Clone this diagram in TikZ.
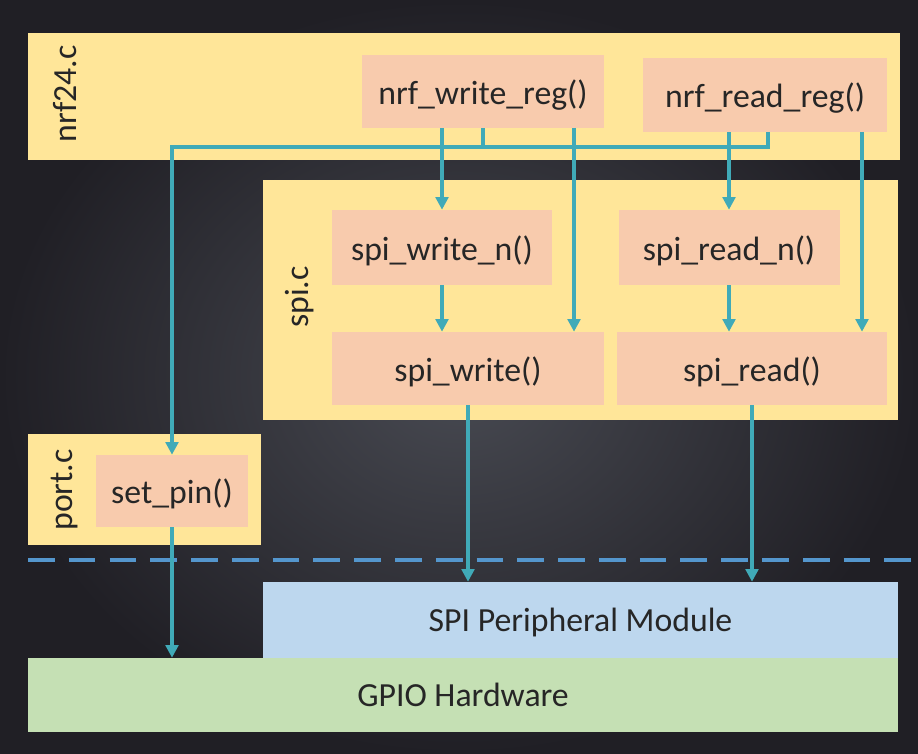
\documentclass[tikz,border=0pt]{standalone}
\usepackage{fontspec}
\setmainfont{Carlito}
\usetikzlibrary{positioning, calc, arrows.meta}

\definecolor{bgdark}{RGB}{32,31,37}
\definecolor{bglight}{RGB}{72,74,82}
\definecolor{modyellow}{RGB}{255,230,153}
\definecolor{fnsalmon}{RGB}{248,203,173}
\definecolor{hwblue}{RGB}{189,215,238}
\definecolor{hwgreen}{RGB}{197,224,180}
\definecolor{linkteal}{RGB}{64,170,184}
\definecolor{dashblue}{RGB}{84,150,205}
\definecolor{txtdark}{RGB}{38,38,38}

\newcommand{\px}{0.025cm}

\tikzset{
  module/.style={fill=modyellow, inner sep=0pt},
  fnbox/.style={fill=fnsalmon, inner sep=0pt, text=txtdark, font=\fontsize{24}{28}\selectfont, text height=23pt, text depth=5pt},
  hwbox/.style={inner sep=0pt, text=txtdark, font=\fontsize{24}{28}\selectfont, text height=22pt, text depth=5pt},
  modlabel/.style={rotate=90, text=txtdark, font=\fontsize{24}{28}\selectfont},
  wire/.style={draw=linkteal, line width=2.6pt},
  link/.style={wire, -{Triangle[width=9pt, length=9pt]}},
  divider/.style={draw=dashblue, line width=3.5pt, dash pattern=on 19pt off 10pt}
}

\begin{document}
\begin{tikzpicture}[x=\px, y=-\px]
        \shade[inner color=bglight, outer color=bgdark] (0,0) rectangle (918,754);  %bg
        \useasboundingbox (0,0) rectangle (918,754);

        % modules
        \node[module, minimum width=872*\px, minimum height=127*\px] (nrfmod) at (464,96.5) {};
        \node[module, minimum width=635*\px, minimum height=240*\px] (spimod) at (580.5,300) {};
        \node[module, minimum width=233*\px, minimum height=111*\px] (portmod) at (144.5,489.5) {};
        \node[modlabel] (nrflbl) at (65,94) {nrf24.c};
        \node[modlabel] (spilbl) at (300,297) {spi.c};
        \node[modlabel] (portlbl) at (65,490) {port.c};

        % functions
        \node[fnbox, minimum width=242*\px, minimum height=73*\px] (nrfwr) at (483,91.5) {nrf\_write\_reg()};
        \node[fnbox, minimum width=244*\px, minimum height=74*\px] (nrfrd) at (765,95) {nrf\_read\_reg()};
        \node[fnbox, minimum width=220*\px, minimum height=75*\px] (spiwn) at (442,247.5) {spi\_write\_n()};
        \node[fnbox, minimum width=221*\px, minimum height=75*\px] (spirn) at (729,247.5) {spi\_read\_n()};
        \node[fnbox, minimum width=272*\px, minimum height=73*\px] (spiw) at (468,368.5) {spi\_write()};
        \node[fnbox, minimum width=270*\px, minimum height=73*\px] (spir) at (752,368.5) {spi\_read()};
        \node[fnbox, minimum width=152*\px, minimum height=72*\px] (setpin) at (172,491) {set\_pin()};

        % hardware
        \node[hwbox, fill=hwblue, minimum width=635*\px, minimum height=76*\px] (spiper) at (580.5,620) {SPI Peripheral Module};
        \node[hwbox, fill=hwgreen, minimum width=870*\px, minimum height=74*\px] (gpio) at (463,695) {GPIO Hardware};

        \draw[divider] (28,560) -- (918,560);  %sw / hw

        % calls
        \coordinate (wtap) at (574,128);
        \coordinate (rtap) at (862,132);
        \coordinate (rstub) at (768,132);
        \coordinate (bus) at (172,147);
        \draw[link] (nrfwr.south -| spiwn.north) -- (spiwn.north);
        \draw[link] (nrfrd.south -| spirn.north) -- (spirn.north);
        \draw[link] (wtap) -- (wtap |- spiw.north);
        \draw[link] (rtap) -- (rtap |- spir.north);
        \draw[wire] (nrfwr.south) -- (nrfwr.south |- bus);
        \draw[link] (rstub) |- (bus) -- (bus |- setpin.north);
        \draw[link] (spiwn.south) -- (spiwn.south |- spiw.north);
        \draw[link] (spirn.south) -- (spirn.south |- spir.north);
        \draw[link] (spiw.south) -- (spiw.south |- spiper.north);
        \draw[link] (spir.south) -- (spir.south |- spiper.north);
        \draw[link] (setpin.south) -- (setpin.south |- gpio.north);
      \end{tikzpicture}
\end{document}
